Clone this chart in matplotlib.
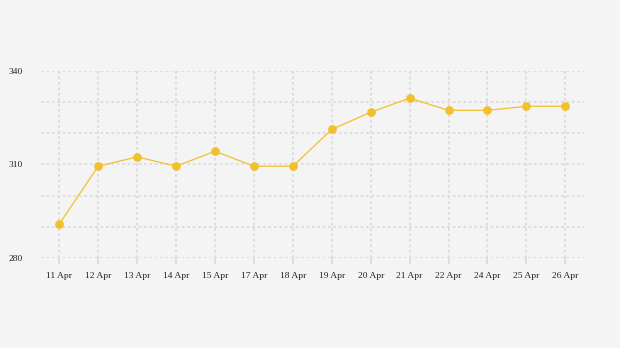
import matplotlib

matplotlib.use("Agg")

import matplotlib.pyplot as plt

dates = ["11 Apr", "12 Apr", "13 Apr", "14 Apr", "15 Apr", "17 Apr", "18 Apr",
         "19 Apr", "20 Apr", "21 Apr", "22 Apr", "24 Apr", "25 Apr", "26 Apr"]
values = [290.9, 309.4, 312.4, 309.4, 314.2, 309.4, 309.4,
          321.2, 326.7, 331.2, 327.3, 327.3, 328.6, 328.6]
y_ticks = [280, 310, 340]
y_grid = [280, 290, 300, 310, 320, 330, 340]

bg = "#f4f4f4"
grid_color = "#dedede"
line_color = "#f0c02f"

fig = plt.figure(figsize=(6.2, 3.48), dpi=100, facecolor=bg)
ax = fig.add_axes([41 / 620, 1 - 258 / 348, (584 - 41) / 620, (258 - 70.7) / 348])
ax.set_facecolor(bg)

x = list(range(len(dates)))
for yv in y_grid:
    ax.axhline(yv, color=grid_color, linewidth=1.5, linestyle=(0, (1.3, 1.3)), zorder=1)
for xv in x:
    ax.axvline(xv, color=grid_color, linewidth=1.5, linestyle=(0, (1.3, 1.3)), zorder=1)

ax.plot(x, values, color=line_color, linewidth=0.9, marker="o", markersize=6.3,
        markeredgewidth=0, zorder=3)

ax.set_xlim(-0.47, len(dates) - 1 + 0.48)
ax.set_ylim(280, 340)
ax.set_xticks(x, labels=dates)
ax.set_yticks(y_ticks, labels=[str(v) for v in y_ticks])
for spine in ax.spines.values():
    spine.set_visible(False)
ax.tick_params(axis="x", length=4, width=1.5, color=grid_color, pad=6,
               labelsize=6.8, labelcolor="#222222")
ax.tick_params(axis="y", length=0, pad=13, labelsize=6.8, labelcolor="#222222")
for lbl in ax.get_xticklabels() + ax.get_yticklabels():
    lbl.set_family("Liberation Serif")

fig.savefig("out.png", dpi=100, facecolor=bg)
plt.close(fig)
